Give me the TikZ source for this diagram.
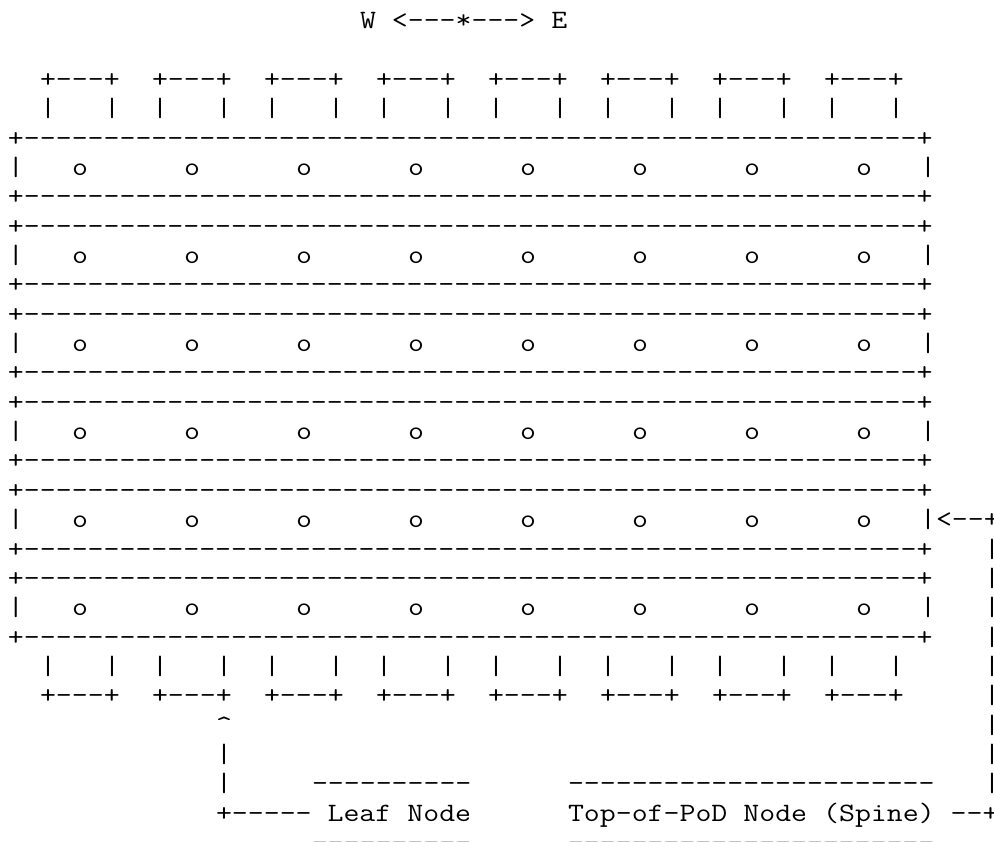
\documentclass[tikz,border=0pt]{standalone}
\usepackage{fontspec}
% Courier-like fixed pitch: Latin Modern Mono widened to a 16pt cell
\newfontfamily\asciifont{Latin Modern Mono}[FakeStretch=1.168, Ligatures=TeXOff]
\newcommand\asciisetup{\asciifont\fontsize{26.5pt}{29.36pt}\selectfont
  \fontdimen2\font=16pt \fontdimen3\font=0pt \fontdimen4\font=0pt}
% column -> left edge of the character cell, line -> baseline
\newcommand\cx[1]{8+16*(#1)}
\newcommand\ly[1]{28.58+29.36*(#1)}
\newcommand\border{+--------------------------------------------------------+}
\tikzset{
  asc/.style={anchor=base west, inner sep=0pt, outer sep=0pt, font=\asciisetup},
  cutrow/.style={asc, text=black!25},
}
\begin{document}
\begin{tikzpicture}[x=1pt, y=-1pt]
  \fill[white] (0,0) rectangle (994,842);
  \useasboundingbox (0,0) rectangle (994,842);

  % compass
  \node[asc] (compass) at ({\cx{22}},{\ly{0}}) {W <---*---> E};

  % spine switches on top
  \foreach \i in {0,...,7} {
    \node[asc] (tbox\i) at ({\cx{2+7*\i}},{\ly{2}}) {+---+};
    \node[asc] (tlft\i) at ({\cx{2+7*\i}},{\ly{3}}) {|};
    \node[asc] (trgt\i) at ({\cx{6+7*\i}},{\ly{3}}) {|};
  }

  % six planes of leaf nodes
  \foreach \g in {0,...,5} {
    \node[asc] (ptop\g) at ({\cx{0}},{\ly{4+3*\g}}) {\border};
    \node[asc] (plft\g) at ({\cx{0}},{\ly{5+3*\g}}) {|};
    \node[asc] (prgt\g) at ({\cx{57}},{\ly{5+3*\g}}) {|};
    \foreach \i in {0,...,7} {
      \node[asc] (leaf\g\i) at ({\cx{4+7*\i}},{\ly{5+3*\g}}) {o};
    }
    \node[asc] (pbot\g) at ({\cx{0}},{\ly{6+3*\g}}) {\border};
  }

  % spine switches below
  \foreach \i in {0,...,7} {
    \node[asc] (blft\i) at ({\cx{2+7*\i}},{\ly{22}}) {|};
    \node[asc] (brgt\i) at ({\cx{6+7*\i}},{\ly{22}}) {|};
    \node[asc] (bbox\i) at ({\cx{2+7*\i}},{\ly{23}}) {+---+};
  }

  % pointer to a leaf node
  \node[asc] (leafhead) at ({\cx{13}},{\ly{24}}) {\char`\^};
  \node[asc] (leafbarA) at ({\cx{13}},{\ly{25}}) {|};
  \node[asc] (leafbarB) at ({\cx{13}},{\ly{26}}) {|};
  \node[asc] (leafover) at ({\cx{19}},{\ly{26}}) {----------};
  \node[asc] (leaflabel) at ({\cx{13}},{\ly{27}}) {+----- Leaf Node};
  \node[cutrow] (leafunder) at ({\cx{19}},{\ly{28}}) {----------};

  % pointer to a spine plane
  \node[asc] (spinehead) at ({\cx{58}},{\ly{17}}) {<--+};
  \foreach \n in {18,...,26} {
    \node[asc] (spinebar\n) at ({\cx{61}},{\ly{\n}}) {|};
  }
  \node[asc] (spineover) at ({\cx{35}},{\ly{26}}) {-----------------------};
  \node[asc] (spinelabel) at ({\cx{35}},{\ly{27}}) {Top-of-PoD Node (Spine) --+};
  \node[cutrow] (spineunder) at ({\cx{35}},{\ly{28}}) {-----------------------};
\end{tikzpicture}
\end{document}
